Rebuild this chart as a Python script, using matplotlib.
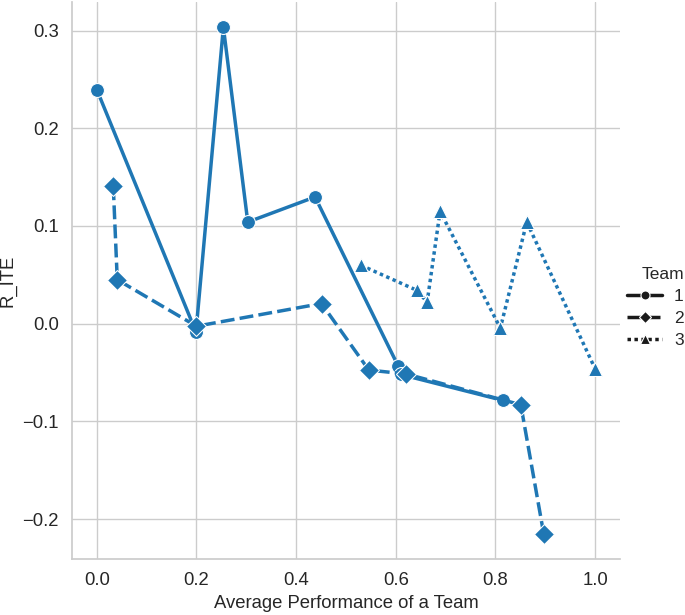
import numpy as np
import pandas as pd
import matplotlib
matplotlib.use('Agg')
import matplotlib.pyplot as plt
from matplotlib.lines import Line2D
import seaborn as sns

team1_x = [0.0, 0.199, 0.254, 0.303, 0.438, 0.605, 0.610, 0.815]
team1_y = [0.2395, -0.0085, 0.3035, 0.104, 0.1297, -0.0435, -0.052, -0.0785]
team2_x = [0.033, 0.041, 0.200, 0.451, 0.546, 0.621, 0.851, 0.897]
team2_y = [0.1406, 0.045, -0.0026, 0.0206, -0.0475, -0.0515, -0.083, -0.215]
team3_x = [0.530, 0.643, 0.663, 0.689, 0.810, 0.863, 1.0]
team3_y = [0.0598, 0.034, 0.022, 0.115, -0.0045, 0.104, -0.046]

teams = ['1', '2', '3']
markers = ['o', 'D', '^']
dashes = ['', (4, 1.5), (1, 1)]

df = pd.concat([
    pd.DataFrame({'x': team1_x, 'y': team1_y, 'Team': '1'}),
    pd.DataFrame({'x': team2_x, 'y': team2_y, 'Team': '2'}),
    pd.DataFrame({'x': team3_x, 'y': team3_y, 'Team': '3'}),
])

sns.set_theme(style='whitegrid')
plt.rcParams['font.family'] = ['Liberation Sans', 'DejaVu Sans']
fs = 13.3

fig = plt.figure(figsize=(6.85, 6.15), dpi=100)
ax = fig.add_axes([0.105, 0.091, 0.80, 0.906])

sns.lineplot(data=df, x='x', y='y', style='Team', markers=markers,
             dashes=dashes, color='#1f77b4', linewidth=2.5,
             markersize=10, estimator=None, legend=False, ax=ax)

sns.despine(ax=ax)
ax.set_xlabel('Average Performance of a Team', fontsize=fs)
ax.set_ylabel('R_ITE', fontsize=fs)
ax.tick_params(labelsize=fs)
ax.set_xticks([0.0, 0.2, 0.4, 0.6, 0.8, 1.0])
ax.set_yticks([-0.2, -0.1, 0.0, 0.1, 0.2, 0.3])

handles = []
for m, d in zip(markers, dashes):
    ls = '-' if d == '' else (0, d)
    handles.append(Line2D([], [], color='.1', marker=m, linestyle=ls,
                          linewidth=2.5, markersize=6.5, markeredgecolor='w',
                          markeredgewidth=0.8))
leg = fig.legend(handles, teams, title='Team', loc='center left',
                 bbox_to_anchor=(0.908, 0.50), frameon=False, fontsize=12.5,
                 title_fontsize=12.5, handlelength=2.0, labelspacing=0.4,
                 handletextpad=0.7, borderaxespad=0.0, borderpad=0.3)
leg._legend_box.align = 'right'

fig.savefig('out.png', dpi=100)
